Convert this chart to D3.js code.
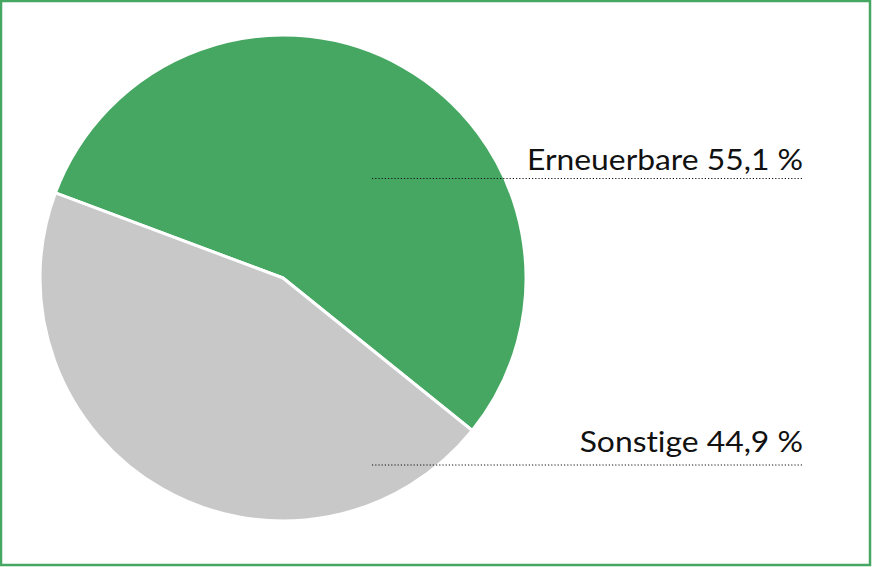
<!DOCTYPE html>
<html>
<head>
	<meta charset="UTF-8">
	<title>Anteil Erneuerbare</title>
	<script src="https://d3js.org/d3.v7.min.js"></script>
	<style>
		body { margin: 0; background: #fff; }
		svg { display: block; }
		.label { font-family: Lato, "Open Sans", sans-serif; fill: #111; font-variant-ligatures: none; }
	</style>
</head>
<body>
	<div id="chart"></div>
	<script>
		// data
		let categories = ["Erneuerbare", "Sonstige"];
		let shares = [55.1, 44.9];
		let labels = ["Erneuerbare 55,1 %", "Sonstige 44,9 %"];
		let colors = ["#46a762", "#c8c8c8"];

		let width = 872;
		let height = 567;
		let cx = 283, cy = 278, radius = 243;

		let svg = d3.select("#chart").append("svg")
			.attr("width", width)
			.attr("height", height);

		// frame
		svg.append("rect")
			.attr("x", 1).attr("y", 1)
			.attr("width", width - 3).attr("height", height - 3)
			.attr("fill", "none")
			.attr("stroke", "#46a762")
			.attr("stroke-width", 2.5);

		let pie = d3.pie()
			.sort(null)
			.startAngle(-69.5 * Math.PI / 180)
			.endAngle(290.5 * Math.PI / 180);

		let arc = d3.arc().innerRadius(0).outerRadius(radius);

		let slices = pie(shares);

		svg.append("g")
			.attr("transform", `translate(${cx},${cy})`)
			.selectAll("path")
			.data(slices)
			.join("path")
			.attr("d", arc)
			.attr("fill", (d, i) => colors[i])
			.attr("stroke", "#fff")
			.attr("stroke-width", 3)
			.attr("stroke-linejoin", "round");

		// label rows: leader line y and text baseline
		let lineY = d3.scaleOrdinal().domain(categories).range([178, 464.5]);
		let textY = d3.scaleOrdinal().domain(categories).range([169.5, 451.5]);
		let lineX = [372, 803];

		let g = svg.append("g");

		g.selectAll("line")
			.data(categories)
			.join("line")
			.attr("x1", lineX[0])
			.attr("x2", lineX[1])
			.attr("y1", d => lineY(d) + 0.5)
			.attr("y2", d => lineY(d) + 0.5)
			.attr("stroke", "#111")
			.attr("stroke-width", 1.2)
			.attr("stroke-dasharray", "1.2,2");

		let fs = 29.5;
		let texts = g.selectAll("text")
			.data(categories)
			.join("text")
			.attr("class", "label")
			.attr("x", lineX[1])
			.attr("y", d => textY(d))
			.attr("text-anchor", "end")
			.attr("font-size", fs)
			.text((d, i) => labels[i]);

		// squeeze a little so the first label is ~276px wide, like the reference
		let k = 276 / texts.nodes()[0].getComputedTextLength();
		texts.each(function () {
			let w = this.getComputedTextLength();
			d3.select(this)
				.attr("textLength", w * k)
				.attr("lengthAdjust", "spacingAndGlyphs");
		});
	</script>
</body>
</html>
